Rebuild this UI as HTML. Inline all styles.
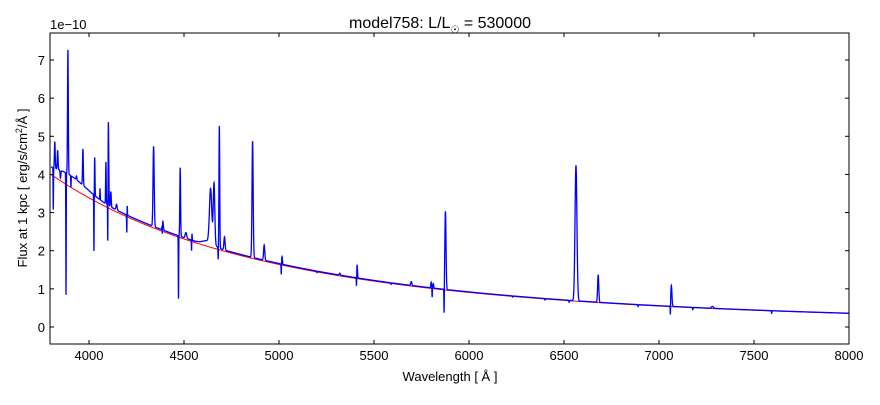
<!DOCTYPE html>
<html><head><meta charset="utf-8"><style>
body{margin:0;background:#fff;}
svg text{font-family:"Liberation Sans","DejaVu Sans",sans-serif;}
</style></head><body>
<svg id="s" width="880" height="400" xmlns="http://www.w3.org/2000/svg">
<rect width="880" height="400" fill="#fff"/>
<g id="plot"></g>
<rect x="50" y="33" width="799" height="311" fill="none" stroke="#000" stroke-width="1"/>
<g id="ticks" stroke="#000" stroke-width="1"></g>
<g font-size="13" fill="#000" id="labels"></g>
<text x="440" y="28" font-size="16" text-anchor="middle">model758: L/L<tspan font-size="10" dy="5">☉</tspan><tspan dy="-5"> = 530000</tspan></text>
<text x="50" y="29" font-size="13">1e−10</text>
<text x="450" y="381" font-size="13" text-anchor="middle">Wavelength [ Å ]</text>
<text transform="translate(27,188) rotate(-90)" font-size="13" text-anchor="middle">Flux at 1 kpc [ erg/s/cm<tspan font-size="9" dy="-5">2</tspan><tspan dy="5">/Å ]</tspan></text>
</svg>
<script>
var X=function(l){return 51+(l-3800)*0.19;};
var Y=function(v){return 327-v*38.14;};
function cont(l){return 4.0*Math.pow(l/3800,-3.25);}
var lines=[[3812,-1.1,1],[3820,0.7,2],[3835,0.5,2],[3850,-0.2,2],[3879,-3.2,1],[3889,3.25,2],[3905,-0.3,1],[3934,0.1,2],[3968,0.95,2],[4026,-1.5,1],[4030,1.0,1.5],[4058,0.3,1],[4089,1.1,1.5],[4099,-1.6,1],[4102,2.2,2],[4115,0.4,2],[4145,0.15,3],[4199,-0.5,1],[4201,0.3,1],[4340,2.1,3],[4388,0.25,3],[4386,-0.3,1],[4471,-1.65,1],[4480,1.8,2],[4510,0.15,4],[4541,0.3,1.5],[4540,-0.5,1],[4640,1.4,6],[4658,1.6,4],[4680,-0.35,1],[4686,3.2,2],[4713,0.35,3],[4861,3.05,3],[4922,0.4,3],[5012,-0.3,1],[5016,0.2,2],[5200,-0.04,1.5],[5320,0.05,3],[5411,0.35,2],[5408,-0.3,1],[5590,-0.04,1.5],[5696,0.1,3],[5801,0.15,2],[5812,0.12,2],[5806,-0.25,1],[5869,-0.75,1],[5876,2.05,3],[6230,-0.03,1.5],[6400,-0.04,1.5],[6527,-0.05,1.5],[6563,3.55,5],[6680,0.72,3],[6890,-0.05,1.5],[7060,-0.35,1],[7065,0.55,3],[7178,-0.06,1.5],[7281,0.05,5],[7593,-0.08,1]];
var p="",q="";
for(var l=3800;l<=8000;l+=0.5){var c=cont(l),v=c*1.015+0.25*Math.exp(-Math.pow((l-3900)/130,2))+0.12*Math.exp(-Math.pow((l-4630)/40,2));
for(var i=0;i<lines.length;i++){var d=(l-lines[i][0])/lines[i][2];if(Math.abs(d)<8)v+=lines[i][1]*Math.exp(-0.5*d*d);}
p+=(l==3800?"M":"L")+X(l).toFixed(2)+" "+Y(v).toFixed(2);
q+=(l==3800?"M":"L")+X(l).toFixed(2)+" "+Y(c).toFixed(2);}
var g=document.getElementById("plot"),ns="http://www.w3.org/2000/svg";
var a=document.createElementNS(ns,"path");a.setAttribute("d",q);a.setAttribute("stroke","#f00");a.setAttribute("fill","none");g.appendChild(a);
var b=document.createElementNS(ns,"path");b.setAttribute("d",p);b.setAttribute("stroke","#00f");b.setAttribute("stroke-width","1.3");b.setAttribute("fill","none");g.appendChild(b);
var t=document.getElementById("ticks"),lb=document.getElementById("labels");
function ln(x1,y1,x2,y2){var e=document.createElementNS(ns,"line");e.setAttribute("x1",x1);e.setAttribute("y1",y1);e.setAttribute("x2",x2);e.setAttribute("y2",y2);t.appendChild(e);}
function tx(x,y,s,anc){var e=document.createElementNS(ns,"text");e.setAttribute("x",x);e.setAttribute("y",y);e.setAttribute("text-anchor",anc);e.textContent=s;lb.appendChild(e);}
for(var l=4000;l<=8000;l+=500){var x=X(l);ln(x,344,x,340);ln(x,33,x,37);tx(x,360,l,"middle");}
for(var v=0;v<=7;v++){var y=Y(v);ln(50,y,54,y);ln(849,y,845,y);tx(45,y+5,v,"end");}
</script>
</body></html>
